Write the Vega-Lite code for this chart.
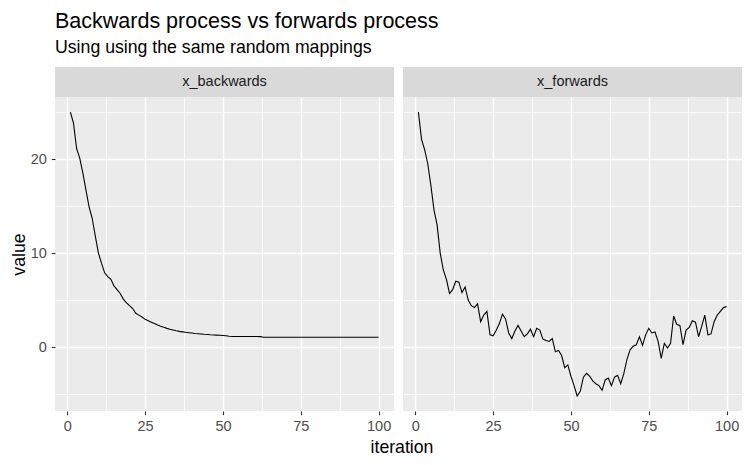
{
  "$schema": "https://vega.github.io/schema/vega-lite/v6.json",
  "background": "white",
  "padding": {"left": 10, "top": 10, "right": 7, "bottom": 5},
  "title": {
    "text": "Backwards process vs forwards process",
    "subtitle": "Using using the same random mappings",
    "anchor": "start",
    "dx": 45,
    "font": "Liberation Sans",
    "subtitleFont": "Liberation Sans",
    "fontSize": 21.5,
    "subtitleFontSize": 17.7,
    "fontWeight": "normal",
    "color": "black",
    "subtitleColor": "black",
    "subtitlePadding": 7,
    "offset": 10
  },
  "config": {
    "font": "Liberation Sans",
    "view": {"stroke": null},
    "axis": {
      "labelFont": "Liberation Sans",
      "labelFontSize": 14.5,
      "labelColor": "#4D4D4D",
      "tickColor": "#333333",
      "tickSize": 3.7,
      "tickWidth": 1.1,
      "domain": false,
      "gridColor": "#FFFFFF",
      "gridWidth": 1.5,
      "gridOpacity": 1,
      "labelPadding": 5,
      "titleFont": "Liberation Sans",
      "titleFontSize": 17.7,
      "titleColor": "black",
      "titleFontWeight": "normal"
    }
  },
  "data": {
    "values": [
      {"iteration": 1, "series": "x_backwards", "value": 25.0},
      {"iteration": 2, "series": "x_backwards", "value": 23.8},
      {"iteration": 3, "series": "x_backwards", "value": 21.1},
      {"iteration": 4, "series": "x_backwards", "value": 20.1},
      {"iteration": 5, "series": "x_backwards", "value": 18.5},
      {"iteration": 6, "series": "x_backwards", "value": 16.7},
      {"iteration": 7, "series": "x_backwards", "value": 14.9},
      {"iteration": 8, "series": "x_backwards", "value": 13.7},
      {"iteration": 9, "series": "x_backwards", "value": 11.8},
      {"iteration": 10, "series": "x_backwards", "value": 10.0},
      {"iteration": 11, "series": "x_backwards", "value": 8.9},
      {"iteration": 12, "series": "x_backwards", "value": 7.9},
      {"iteration": 13, "series": "x_backwards", "value": 7.5},
      {"iteration": 14, "series": "x_backwards", "value": 7.2},
      {"iteration": 15, "series": "x_backwards", "value": 6.5},
      {"iteration": 16, "series": "x_backwards", "value": 6.1},
      {"iteration": 17, "series": "x_backwards", "value": 5.7},
      {"iteration": 18, "series": "x_backwards", "value": 5.1},
      {"iteration": 19, "series": "x_backwards", "value": 4.7},
      {"iteration": 20, "series": "x_backwards", "value": 4.4},
      {"iteration": 21, "series": "x_backwards", "value": 4.1},
      {"iteration": 22, "series": "x_backwards", "value": 3.6},
      {"iteration": 23, "series": "x_backwards", "value": 3.4},
      {"iteration": 24, "series": "x_backwards", "value": 3.2},
      {"iteration": 25, "series": "x_backwards", "value": 2.95},
      {"iteration": 26, "series": "x_backwards", "value": 2.8},
      {"iteration": 27, "series": "x_backwards", "value": 2.65},
      {"iteration": 28, "series": "x_backwards", "value": 2.5},
      {"iteration": 29, "series": "x_backwards", "value": 2.35},
      {"iteration": 30, "series": "x_backwards", "value": 2.22},
      {"iteration": 31, "series": "x_backwards", "value": 2.1},
      {"iteration": 32, "series": "x_backwards", "value": 1.99},
      {"iteration": 33, "series": "x_backwards", "value": 1.9},
      {"iteration": 34, "series": "x_backwards", "value": 1.82},
      {"iteration": 35, "series": "x_backwards", "value": 1.74},
      {"iteration": 36, "series": "x_backwards", "value": 1.67},
      {"iteration": 37, "series": "x_backwards", "value": 1.62},
      {"iteration": 38, "series": "x_backwards", "value": 1.57},
      {"iteration": 39, "series": "x_backwards", "value": 1.53},
      {"iteration": 40, "series": "x_backwards", "value": 1.49},
      {"iteration": 41, "series": "x_backwards", "value": 1.45},
      {"iteration": 42, "series": "x_backwards", "value": 1.42},
      {"iteration": 43, "series": "x_backwards", "value": 1.39},
      {"iteration": 44, "series": "x_backwards", "value": 1.36},
      {"iteration": 45, "series": "x_backwards", "value": 1.34},
      {"iteration": 46, "series": "x_backwards", "value": 1.31},
      {"iteration": 47, "series": "x_backwards", "value": 1.29},
      {"iteration": 48, "series": "x_backwards", "value": 1.27},
      {"iteration": 49, "series": "x_backwards", "value": 1.25},
      {"iteration": 50, "series": "x_backwards", "value": 1.23},
      {"iteration": 51, "series": "x_backwards", "value": 1.2},
      {"iteration": 52, "series": "x_backwards", "value": 1.15},
      {"iteration": 53, "series": "x_backwards", "value": 1.13},
      {"iteration": 54, "series": "x_backwards", "value": 1.13},
      {"iteration": 55, "series": "x_backwards", "value": 1.13},
      {"iteration": 56, "series": "x_backwards", "value": 1.13},
      {"iteration": 57, "series": "x_backwards", "value": 1.13},
      {"iteration": 58, "series": "x_backwards", "value": 1.12},
      {"iteration": 59, "series": "x_backwards", "value": 1.12},
      {"iteration": 60, "series": "x_backwards", "value": 1.12},
      {"iteration": 61, "series": "x_backwards", "value": 1.12},
      {"iteration": 62, "series": "x_backwards", "value": 1.11},
      {"iteration": 63, "series": "x_backwards", "value": 1.04},
      {"iteration": 64, "series": "x_backwards", "value": 1.04},
      {"iteration": 65, "series": "x_backwards", "value": 1.04},
      {"iteration": 66, "series": "x_backwards", "value": 1.04},
      {"iteration": 67, "series": "x_backwards", "value": 1.04},
      {"iteration": 68, "series": "x_backwards", "value": 1.04},
      {"iteration": 69, "series": "x_backwards", "value": 1.04},
      {"iteration": 70, "series": "x_backwards", "value": 1.04},
      {"iteration": 71, "series": "x_backwards", "value": 1.04},
      {"iteration": 72, "series": "x_backwards", "value": 1.04},
      {"iteration": 73, "series": "x_backwards", "value": 1.04},
      {"iteration": 74, "series": "x_backwards", "value": 1.04},
      {"iteration": 75, "series": "x_backwards", "value": 1.04},
      {"iteration": 76, "series": "x_backwards", "value": 1.04},
      {"iteration": 77, "series": "x_backwards", "value": 1.04},
      {"iteration": 78, "series": "x_backwards", "value": 1.04},
      {"iteration": 79, "series": "x_backwards", "value": 1.04},
      {"iteration": 80, "series": "x_backwards", "value": 1.04},
      {"iteration": 81, "series": "x_backwards", "value": 1.04},
      {"iteration": 82, "series": "x_backwards", "value": 1.04},
      {"iteration": 83, "series": "x_backwards", "value": 1.04},
      {"iteration": 84, "series": "x_backwards", "value": 1.04},
      {"iteration": 85, "series": "x_backwards", "value": 1.04},
      {"iteration": 86, "series": "x_backwards", "value": 1.04},
      {"iteration": 87, "series": "x_backwards", "value": 1.04},
      {"iteration": 88, "series": "x_backwards", "value": 1.04},
      {"iteration": 89, "series": "x_backwards", "value": 1.04},
      {"iteration": 90, "series": "x_backwards", "value": 1.04},
      {"iteration": 91, "series": "x_backwards", "value": 1.04},
      {"iteration": 92, "series": "x_backwards", "value": 1.04},
      {"iteration": 93, "series": "x_backwards", "value": 1.04},
      {"iteration": 94, "series": "x_backwards", "value": 1.04},
      {"iteration": 95, "series": "x_backwards", "value": 1.04},
      {"iteration": 96, "series": "x_backwards", "value": 1.04},
      {"iteration": 97, "series": "x_backwards", "value": 1.04},
      {"iteration": 98, "series": "x_backwards", "value": 1.04},
      {"iteration": 99, "series": "x_backwards", "value": 1.04},
      {"iteration": 100, "series": "x_backwards", "value": 1.04},
      {"iteration": 1, "series": "x_forwards", "value": 25.0},
      {"iteration": 2, "series": "x_forwards", "value": 22.1},
      {"iteration": 3, "series": "x_forwards", "value": 21.0},
      {"iteration": 4, "series": "x_forwards", "value": 19.5},
      {"iteration": 5, "series": "x_forwards", "value": 17.2},
      {"iteration": 6, "series": "x_forwards", "value": 14.6},
      {"iteration": 7, "series": "x_forwards", "value": 13.0},
      {"iteration": 8, "series": "x_forwards", "value": 10.0},
      {"iteration": 9, "series": "x_forwards", "value": 8.2},
      {"iteration": 10, "series": "x_forwards", "value": 7.2},
      {"iteration": 11, "series": "x_forwards", "value": 5.7},
      {"iteration": 12, "series": "x_forwards", "value": 6.1},
      {"iteration": 13, "series": "x_forwards", "value": 7.0},
      {"iteration": 14, "series": "x_forwards", "value": 6.9},
      {"iteration": 15, "series": "x_forwards", "value": 5.8},
      {"iteration": 16, "series": "x_forwards", "value": 6.4},
      {"iteration": 17, "series": "x_forwards", "value": 5.0},
      {"iteration": 18, "series": "x_forwards", "value": 4.4},
      {"iteration": 19, "series": "x_forwards", "value": 4.2},
      {"iteration": 20, "series": "x_forwards", "value": 4.6},
      {"iteration": 21, "series": "x_forwards", "value": 2.7},
      {"iteration": 22, "series": "x_forwards", "value": 3.4},
      {"iteration": 23, "series": "x_forwards", "value": 3.8},
      {"iteration": 24, "series": "x_forwards", "value": 1.3},
      {"iteration": 25, "series": "x_forwards", "value": 1.2},
      {"iteration": 26, "series": "x_forwards", "value": 1.8},
      {"iteration": 27, "series": "x_forwards", "value": 2.5},
      {"iteration": 28, "series": "x_forwards", "value": 3.5},
      {"iteration": 29, "series": "x_forwards", "value": 3.0},
      {"iteration": 30, "series": "x_forwards", "value": 1.5},
      {"iteration": 31, "series": "x_forwards", "value": 0.9},
      {"iteration": 32, "series": "x_forwards", "value": 1.7},
      {"iteration": 33, "series": "x_forwards", "value": 2.3},
      {"iteration": 34, "series": "x_forwards", "value": 1.7},
      {"iteration": 35, "series": "x_forwards", "value": 1.1},
      {"iteration": 36, "series": "x_forwards", "value": 1.4},
      {"iteration": 37, "series": "x_forwards", "value": 1.9},
      {"iteration": 38, "series": "x_forwards", "value": 1.1},
      {"iteration": 39, "series": "x_forwards", "value": 2.0},
      {"iteration": 40, "series": "x_forwards", "value": 1.8},
      {"iteration": 41, "series": "x_forwards", "value": 0.85},
      {"iteration": 42, "series": "x_forwards", "value": 0.7},
      {"iteration": 43, "series": "x_forwards", "value": 0.6},
      {"iteration": 44, "series": "x_forwards", "value": 0.9},
      {"iteration": 45, "series": "x_forwards", "value": -0.5},
      {"iteration": 46, "series": "x_forwards", "value": -0.35},
      {"iteration": 47, "series": "x_forwards", "value": -0.9},
      {"iteration": 48, "series": "x_forwards", "value": -2.2},
      {"iteration": 49, "series": "x_forwards", "value": -1.9},
      {"iteration": 50, "series": "x_forwards", "value": -3.1},
      {"iteration": 51, "series": "x_forwards", "value": -4.1},
      {"iteration": 52, "series": "x_forwards", "value": -5.2},
      {"iteration": 53, "series": "x_forwards", "value": -4.7},
      {"iteration": 54, "series": "x_forwards", "value": -3.2},
      {"iteration": 55, "series": "x_forwards", "value": -2.8},
      {"iteration": 56, "series": "x_forwards", "value": -3.1},
      {"iteration": 57, "series": "x_forwards", "value": -3.6},
      {"iteration": 58, "series": "x_forwards", "value": -3.9},
      {"iteration": 59, "series": "x_forwards", "value": -4.1},
      {"iteration": 60, "series": "x_forwards", "value": -4.6},
      {"iteration": 61, "series": "x_forwards", "value": -3.5},
      {"iteration": 62, "series": "x_forwards", "value": -3.3},
      {"iteration": 63, "series": "x_forwards", "value": -4.1},
      {"iteration": 64, "series": "x_forwards", "value": -3.2},
      {"iteration": 65, "series": "x_forwards", "value": -3.0},
      {"iteration": 66, "series": "x_forwards", "value": -3.9},
      {"iteration": 67, "series": "x_forwards", "value": -2.8},
      {"iteration": 68, "series": "x_forwards", "value": -1.3},
      {"iteration": 69, "series": "x_forwards", "value": -0.3},
      {"iteration": 70, "series": "x_forwards", "value": 0.1},
      {"iteration": 71, "series": "x_forwards", "value": 0.25},
      {"iteration": 72, "series": "x_forwards", "value": 1.1},
      {"iteration": 73, "series": "x_forwards", "value": 0.2},
      {"iteration": 74, "series": "x_forwards", "value": 1.3},
      {"iteration": 75, "series": "x_forwards", "value": 2.0},
      {"iteration": 76, "series": "x_forwards", "value": 1.5},
      {"iteration": 77, "series": "x_forwards", "value": 1.6},
      {"iteration": 78, "series": "x_forwards", "value": 0.6},
      {"iteration": 79, "series": "x_forwards", "value": -1.2},
      {"iteration": 80, "series": "x_forwards", "value": 0.4},
      {"iteration": 81, "series": "x_forwards", "value": -0.1},
      {"iteration": 82, "series": "x_forwards", "value": 0.4},
      {"iteration": 83, "series": "x_forwards", "value": 3.3},
      {"iteration": 84, "series": "x_forwards", "value": 2.4},
      {"iteration": 85, "series": "x_forwards", "value": 2.3},
      {"iteration": 86, "series": "x_forwards", "value": 0.25},
      {"iteration": 87, "series": "x_forwards", "value": 1.8},
      {"iteration": 88, "series": "x_forwards", "value": 2.1},
      {"iteration": 89, "series": "x_forwards", "value": 2.8},
      {"iteration": 90, "series": "x_forwards", "value": 2.65},
      {"iteration": 91, "series": "x_forwards", "value": 1.1},
      {"iteration": 92, "series": "x_forwards", "value": 2.2},
      {"iteration": 93, "series": "x_forwards", "value": 3.4},
      {"iteration": 94, "series": "x_forwards", "value": 1.3},
      {"iteration": 95, "series": "x_forwards", "value": 1.4},
      {"iteration": 96, "series": "x_forwards", "value": 2.7},
      {"iteration": 97, "series": "x_forwards", "value": 3.4},
      {"iteration": 98, "series": "x_forwards", "value": 3.8},
      {"iteration": 99, "series": "x_forwards", "value": 4.2},
      {"iteration": 100, "series": "x_forwards", "value": 4.3}
    ]
  },
  "vconcat": [
    {
      "title": {
        "text": "iteration",
        "orient": "bottom",
        "anchor": "middle",
        "dx": 26,
        "font": "Liberation Sans",
        "fontSize": 17.7,
        "fontWeight": "normal",
        "color": "black",
        "offset": 6
      },
      "spacing": 9,
      "hconcat": [
        {
          "spacing": 0,
          "vconcat": [
            {
              "width": 339,
              "height": 30,
              "view": {"fill": "#D9D9D9", "stroke": null},
              "transform": [{"filter": "datum.series == 'x_backwards' && datum.iteration == 1"}],
              "mark": {"type": "text", "fontSize": 14.5, "color": "#1A1A1A", "font": "Liberation Sans"},
              "encoding": {"text": {"field": "series", "type": "nominal"}}
            },
            {
              "width": 339,
              "height": 314,
              "view": {"fill": "#EBEBEB", "stroke": null},
              "transform": [{"filter": "datum.series == 'x_backwards'"}],
              "layer": [
                {
                  "mark": {"type": "line", "strokeOpacity": 0},
                  "encoding": {
                    "x": {"field": "iteration", "type": "quantitative", "scale": {"domain": [-3.95, 104.95], "nice": false, "zero": false},
                      "axis": {"orient": "bottom", "values": [12.5, 37.5, 62.5, 87.5], "grid": true, "gridWidth": 0.75, "labels": false, "ticks": false, "domain": false, "title": null}},
                    "y": {"field": "value", "type": "quantitative", "scale": {"domain": [-6.8, 26.6], "nice": false, "zero": false},
                      "axis": {"orient": "left", "values": [-5, 5, 15, 25], "grid": true, "gridWidth": 0.75, "labels": false, "ticks": false, "domain": false, "title": null}}
                  }
                },
                {
                  "mark": {"type": "line", "color": "black", "strokeWidth": 1.1},
                  "encoding": {
                    "x": {"field": "iteration", "type": "quantitative",
                      "axis": {"orient": "bottom", "values": [0, 25, 50, 75, 100], "grid": true, "title": null}},
                    "y": {"field": "value", "type": "quantitative",
                      "axis": {"orient": "left", "values": [0, 10, 20], "grid": true, "title": "value", "titlePadding": 3, "minExtent": 24, "maxExtent": 24}}
                  }
                }
              ],
              "resolve": {"axis": {"x": "independent", "y": "independent"}}
            }
          ]
        },
        {
          "spacing": 0,
          "vconcat": [
            {
              "width": 339,
              "height": 30,
              "view": {"fill": "#D9D9D9", "stroke": null},
              "transform": [{"filter": "datum.series == 'x_forwards' && datum.iteration == 1"}],
              "mark": {"type": "text", "fontSize": 14.5, "color": "#1A1A1A", "font": "Liberation Sans"},
              "encoding": {"text": {"field": "series", "type": "nominal"}}
            },
            {
              "width": 339,
              "height": 314,
              "view": {"fill": "#EBEBEB", "stroke": null},
              "transform": [{"filter": "datum.series == 'x_forwards'"}],
              "layer": [
                {
                  "mark": {"type": "line", "strokeOpacity": 0},
                  "encoding": {
                    "x": {"field": "iteration", "type": "quantitative", "scale": {"domain": [-3.95, 104.95], "nice": false, "zero": false},
                      "axis": {"orient": "bottom", "values": [12.5, 37.5, 62.5, 87.5], "grid": true, "gridWidth": 0.75, "labels": false, "ticks": false, "domain": false, "title": null}},
                    "y": {"field": "value", "type": "quantitative", "scale": {"domain": [-6.8, 26.6], "nice": false, "zero": false},
                      "axis": {"orient": "left", "values": [-5, 5, 15, 25], "grid": true, "gridWidth": 0.75, "labels": false, "ticks": false, "domain": false, "title": null}}
                  }
                },
                {
                  "mark": {"type": "line", "color": "black", "strokeWidth": 1.1},
                  "encoding": {
                    "x": {"field": "iteration", "type": "quantitative",
                      "axis": {"orient": "bottom", "values": [0, 25, 50, 75, 100], "grid": true, "title": null}},
                    "y": {"field": "value", "type": "quantitative",
                      "axis": {"orient": "left", "values": [0, 10, 20], "grid": true, "labels": false, "ticks": false, "title": null}}
                  }
                }
              ],
              "resolve": {"axis": {"x": "independent", "y": "independent"}}
            }
          ]
        }
      ]
    }
  ]
}
